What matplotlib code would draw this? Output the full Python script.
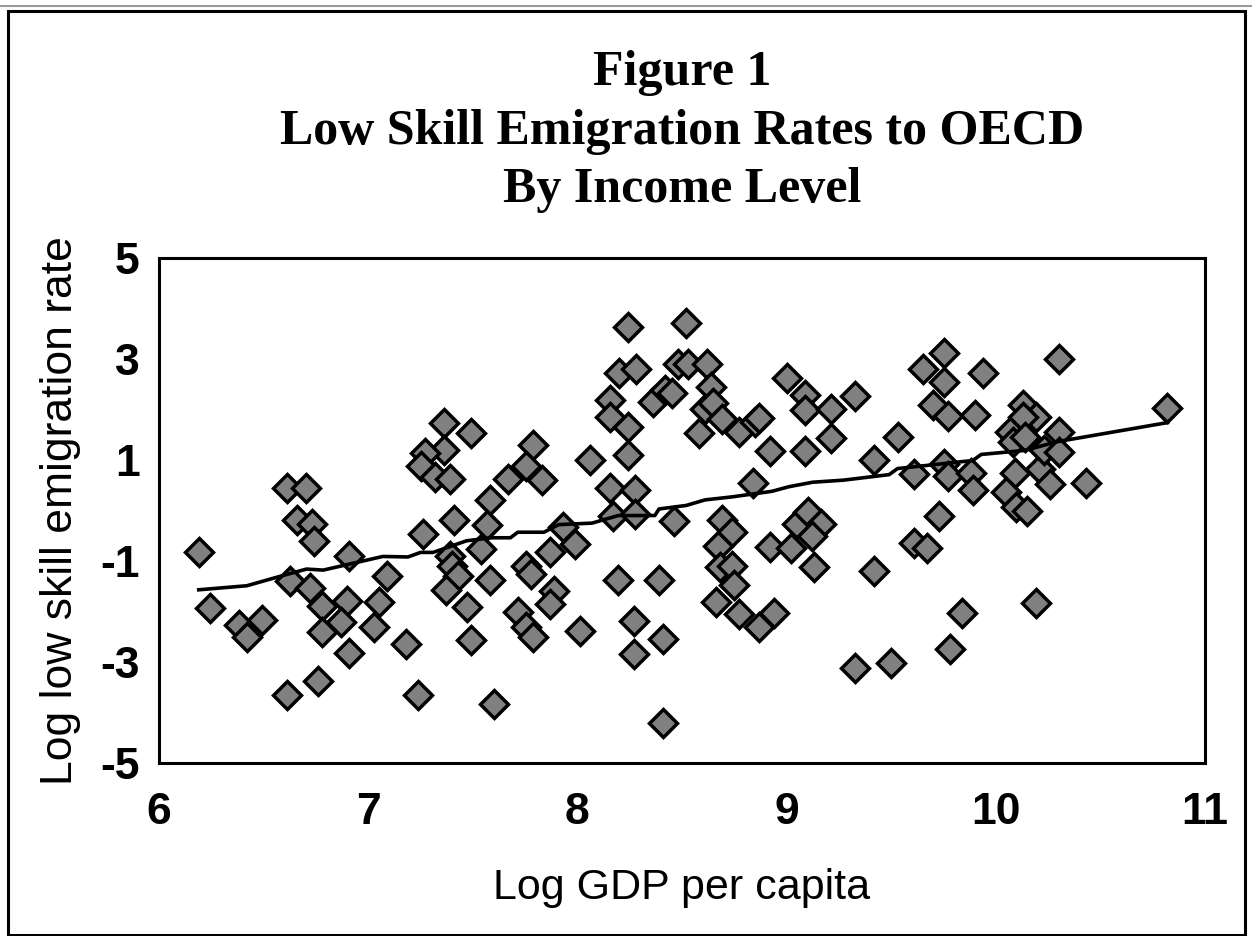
import numpy as np
import matplotlib.pyplot as plt
from matplotlib.patches import Rectangle

# log GDP per capita / log low skill emigration rate
gdp = [6.19, 6.245, 6.38, 6.42, 6.49, 6.61, 6.705, 6.66, 6.73, 6.74,
       6.625, 6.72, 6.78, 6.78, 6.90, 6.87, 6.91, 6.91, 7.05, 7.03,
       7.09, 7.18, 6.61, 6.76, 7.24, 7.60, 7.26, 7.36, 7.49, 7.36,
       7.27, 7.25, 7.32, 7.39, 7.58, 7.41, 7.57, 7.54, 7.39, 7.40,
       7.43, 7.37, 7.58, 7.47, 7.49,
       8.24, 8.52, 8.20, 8.28, 8.48, 8.53, 8.62, 9.00, 8.155, 8.36,
       8.42, 8.45, 8.64, 8.61, 8.65, 8.155, 8.24, 8.58, 8.69, 8.77,
       8.85, 8.87, 9.09, 9.09, 9.21, 9.21, 9.09, 8.92, 8.24, 8.06,
       7.79, 7.755, 7.67, 7.83, 8.155, 8.275, 8.17, 8.275, 8.46, 8.84,
       8.69, 8.74, 8.67, 8.68, 8.74, 8.75, 8.66, 8.77, 8.87, 8.94,
       8.92, 9.02, 9.05, 9.10, 9.165, 9.12, 9.13, 7.93, 7.99, 7.87,
       7.755, 7.78, 7.89, 7.87, 7.715, 7.755, 7.79, 8.01, 8.195, 8.39,
       8.27, 8.41, 8.27, 8.41,
       9.75, 9.65, 9.75, 9.94, 10.30, 9.325, 9.70, 9.77, 9.90, 10.13,
       10.19, 10.13, 10.07, 10.08, 10.14, 10.30, 10.82, 9.53, 9.42, 9.61,
       9.75, 9.77, 9.88, 9.89, 10.09, 10.05, 10.095, 10.15, 10.21, 10.26,
       10.23, 10.30, 10.43, 9.73, 9.61, 9.67, 9.42, 9.84, 10.19, 9.78,
       9.325, 9.50]
emig = [-0.83, -1.93, -2.26, -2.51, -2.17, 0.44, 0.44, -0.19, -0.27, -0.60,
        -1.40, -1.54, -1.90, -2.40, -1.79, -2.20, -0.91, -2.83, -1.81, -2.30,
        -1.29, -2.65, -3.66, -3.37, -3.66, -3.84, -0.46, 1.74, 1.54, 1.19,
        1.13, 0.89, 0.67, 0.62, 0.20, -0.19, -0.28, -0.76, -0.91, -1.09,
        -1.29, -1.57, -1.38, -1.92, -2.57,
        3.64, 3.72, 2.72, 2.81, 2.91, 2.91, 2.91, 2.63, 2.18, 2.15,
        2.38, 2.33, 2.45, 2.00, 2.12, 1.85, 1.65, 1.54, 1.82, 1.56,
        1.76, 1.84, 2.28, 1.99, 2.00, 1.44, 1.18, 1.18, 1.09, 0.99,
        1.29, 0.89, 0.63, 0.61, 0.45, 0.40, -0.10, -0.07, -0.20, 0.55,
        -0.19, -0.43, -0.71, -1.12, -1.09, -1.47, -1.82, -2.04, -2.30, -2.02,
        -0.73, -0.75, -0.27, -0.03, -0.26, -0.50, -1.12, -0.33, -0.66, -0.83,
        -1.09, -1.26, -1.59, -1.85, -2.00, -2.31, -2.51, -2.38, -1.38, -1.38,
        -2.18, -2.55, -2.84, -4.20,
        3.11, 2.81, 2.55, 2.73, 3.00, 2.26, 2.08, 1.88, 1.90, 2.08,
        1.85, 1.85, 1.56, 1.36, 1.46, 1.56, 2.02, 1.46, 1.00, 0.73,
        0.93, 0.69, 0.74, 0.41, 0.74, 0.37, 0.07, -0.01, 0.83, 0.53,
        1.19, 1.16, 0.55, -0.10, -0.65, -0.75, -1.20, -2.02, -1.83, -2.74,
        -3.11, -3.02]

# fitted values
fit_x = [6.19, 6.42, 6.59, 6.705, 6.785, 7.07, 7.19, 7.25, 7.31, 7.47,
         7.59, 7.68, 7.715, 7.84, 7.91, 8.07, 8.195, 8.37, 8.39, 8.52,
         8.61, 8.74, 8.93, 9.01, 9.125, 9.27, 9.49, 9.53, 9.89, 9.93,
         10.14, 10.29, 10.82]
fit_y = [-1.57, -1.49, -1.29, -1.16, -1.18, -0.91, -0.92, -0.83, -0.83, -0.60,
         -0.54, -0.54, -0.43, -0.43, -0.28, -0.25, -0.10, -0.10, 0.03, 0.10,
         0.21, 0.27, 0.38, 0.47, 0.56, 0.60, 0.71, 0.83, 0.99, 1.11,
         1.19, 1.36, 1.74]

xticks = [6, 7, 8, 9, 10, 11]
yticks = [-5, -3, -1, 1, 3, 5]

sans = 'Liberation Sans'
serif = 'Liberation Serif'

fig = plt.figure(figsize=(12.52, 9.36), dpi=100)
ax = fig.add_axes([0.127, 0.1848, 0.8355, 0.5396])

ax.plot(gdp, emig, linestyle='none', marker='D', markersize=13.8,
        markerfacecolor='#808080', markeredgecolor='black',
        markeredgewidth=2.5, zorder=2)
ax.plot(fit_x, fit_y, color='black', linewidth=2.6, zorder=3)

ax.set_xlim(6, 11)
ax.set_ylim(-5, 5)
ax.set_xticks(xticks)
ax.set_yticks(yticks)
ax.set_xticklabels([str(v) for v in xticks], fontfamily=sans,
                   fontweight='bold', fontsize=32)
ax.set_yticklabels([str(v) for v in yticks], fontfamily=sans,
                   fontweight='bold', fontsize=32)
ax.tick_params(axis='x', length=0, pad=21)
ax.tick_params(axis='y', length=0, pad=14)
for s in ax.spines.values():
    s.set_linewidth(2.2)

ax.set_xlabel('Log GDP per capita', fontfamily=sans, fontsize=31, labelpad=25)
ax.set_ylabel('Log low skill emigration rate', fontfamily=sans, fontsize=32,
              labelpad=14)
ax.set_title('Figure 1\nLow Skill Emigration Rates to OECD\nBy Income Level',
             fontfamily=serif, fontweight='bold', fontsize=36,
             linespacing=1.36, pad=40)

# border round the whole figure
fig.patches.append(Rectangle((8 / 1252, 1 / 936), 1237 / 1252, 924 / 936,
                             transform=fig.transFigure, fill=False,
                             edgecolor='black', linewidth=2.2))
fig.lines.append(plt.Line2D([0, 1], [1 - 6 / 936, 1 - 6 / 936],
                            transform=fig.transFigure, color='#999999',
                            linewidth=1.5))

fig.savefig('out.png', dpi=100)
